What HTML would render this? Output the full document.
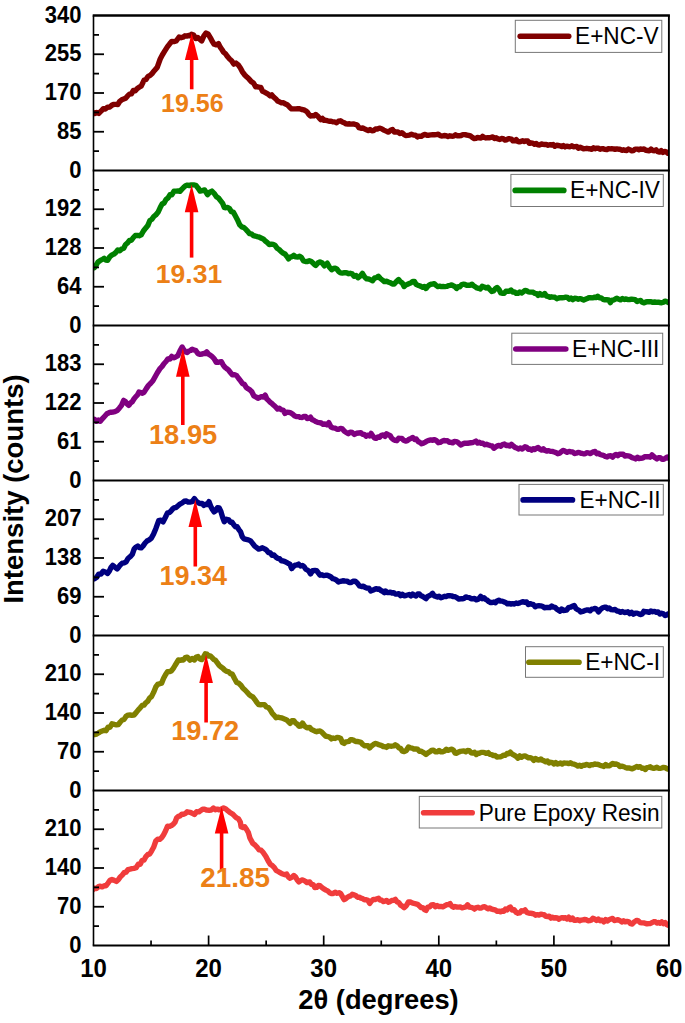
<!DOCTYPE html>
<html><head><meta charset="utf-8"><style>
html,body{margin:0;padding:0;background:#fff;}
body{width:685px;height:1023px;overflow:hidden;}
svg{display:block;}
text{font-family:"Liberation Sans",sans-serif;}
.yl{font-size:22px;font-weight:bold;text-anchor:end;fill:#000;}
.xl{font-size:24px;font-weight:bold;text-anchor:middle;fill:#000;}
.lg{font-size:22.6px;fill:#000;}
.pk{font-weight:bold;text-anchor:middle;fill:#EC8016;}
.xt{font-size:27.3px;font-weight:bold;text-anchor:middle;fill:#000;}
.yt{font-size:27.5px;font-weight:bold;text-anchor:middle;fill:#000;}
</style></head><body>
<svg width="685" height="1023" viewBox="0 0 685 1023">
<clipPath id="c0"><rect x="93.5" y="12.5" width="575.5" height="158.0"/></clipPath>
<path clip-path="url(#c0)" d="M90.5 112.9 L92.5 112.5 L94.5 113.6 L96.7 112.4 L98.8 113.4 L101.0 111.2 L103.2 108.7 L105.4 109.0 L107.6 107.2 L109.8 107.0 L112.0 105.1 L113.9 104.4 L115.9 104.4 L117.8 104.5 L119.8 101.3 L121.7 99.8 L123.7 99.0 L125.6 98.2 L127.6 95.9 L129.5 94.1 L131.4 93.9 L133.4 90.4 L135.3 90.8 L137.3 88.5 L139.2 87.2 L141.2 86.2 L144.1 80.1 L146.0 79.5 L148.0 76.4 L149.9 75.6 L152.1 73.5 L154.3 70.7 L157.2 67.4 L160.2 59.0 L162.3 55.0 L164.5 51.4 L167.5 46.6 L169.7 43.8 L171.8 41.4 L174.0 41.6 L176.2 41.0 L179.1 37.0 L181.1 37.7 L183.0 37.2 L185.0 35.8 L186.7 36.1 L188.4 35.5 L190.1 35.7 L191.5 34.3 L193.7 35.1 L195.8 38.5 L197.8 37.5 L199.7 39.2 L201.7 40.9 L203.9 35.9 L206.1 33.0 L208.2 34.2 L210.4 37.8 L212.2 41.3 L214.1 44.2 L216.3 44.8 L218.5 43.6 L220.2 47.1 L221.9 49.5 L223.6 52.2 L225.5 53.8 L227.5 56.6 L229.4 58.8 L231.6 60.7 L233.8 64.1 L236.0 63.1 L238.2 64.8 L240.4 68.0 L242.6 72.1 L244.8 75.0 L246.9 77.1 L249.1 79.1 L251.3 81.6 L253.5 83.0 L255.7 86.9 L257.4 86.8 L259.1 87.2 L260.8 87.5 L262.6 91.3 L264.5 92.1 L266.3 93.1 L268.1 94.1 L270.0 95.9 L271.8 94.9 L273.7 97.2 L275.7 98.8 L277.6 101.0 L279.5 101.9 L281.5 102.9 L283.4 102.6 L285.0 103.7 L287.2 104.7 L289.4 106.9 L291.6 108.9 L293.8 108.9 L295.7 108.9 L297.7 108.8 L299.6 108.7 L301.8 109.5 L304.0 109.9 L305.6 110.8 L307.2 111.9 L308.9 114.5 L310.5 116.0 L312.2 115.7 L314.0 115.8 L315.7 114.5 L317.4 115.8 L319.1 117.8 L320.8 119.6 L322.4 118.4 L324.1 120.4 L325.7 120.3 L327.3 120.7 L329.1 121.3 L331.0 121.1 L332.8 121.9 L334.6 121.9 L336.6 122.8 L338.5 121.2 L340.5 120.8 L342.3 122.0 L344.1 122.7 L346.0 123.8 L347.8 124.0 L349.6 123.8 L351.5 124.1 L353.3 123.9 L355.1 124.4 L357.0 124.8 L359.0 127.7 L360.9 128.3 L362.7 128.0 L364.5 128.9 L366.4 129.8 L368.2 130.6 L370.0 129.6 L371.9 130.8 L373.7 130.6 L375.5 129.0 L377.4 129.0 L379.4 128.1 L381.6 128.8 L383.8 130.1 L386.7 131.4 L388.6 132.1 L390.6 130.2 L392.5 129.4 L394.3 132.1 L396.1 132.0 L398.0 131.9 L399.8 133.5 L401.8 132.7 L403.7 134.2 L405.7 135.6 L407.6 135.4 L409.6 135.1 L411.5 134.3 L413.4 135.0 L415.4 135.1 L417.3 136.9 L419.3 136.1 L421.2 136.4 L423.2 135.1 L425.1 134.4 L427.1 135.3 L429.0 135.2 L430.8 134.9 L432.6 134.8 L434.5 134.8 L436.3 134.6 L438.3 134.2 L440.2 135.6 L442.2 136.0 L444.1 135.5 L446.1 135.7 L448.0 136.5 L449.9 135.8 L451.9 136.2 L453.8 136.1 L455.6 134.8 L457.5 135.8 L459.3 135.7 L461.1 135.5 L462.9 134.6 L464.8 134.6 L466.6 135.0 L468.4 135.3 L470.4 135.9 L472.3 137.4 L474.3 138.6 L475.9 138.4 L477.6 137.5 L479.2 137.8 L480.9 138.0 L482.6 136.3 L484.2 137.5 L485.9 138.0 L487.5 137.6 L489.2 137.8 L491.0 137.4 L492.8 136.9 L494.5 138.5 L496.2 137.7 L498.0 138.9 L499.8 139.5 L501.5 138.5 L503.2 138.7 L505.0 140.1 L506.6 139.8 L508.2 138.7 L509.8 138.8 L511.4 139.1 L513.0 140.9 L514.6 140.9 L516.2 139.6 L517.8 141.3 L519.4 141.8 L521.0 141.3 L522.6 140.8 L524.3 141.5 L526.0 140.9 L527.7 141.0 L529.4 143.4 L531.1 143.0 L532.8 143.1 L534.5 144.3 L536.2 143.5 L537.9 144.8 L539.6 145.0 L541.3 143.9 L543.0 144.4 L544.7 144.5 L546.4 144.5 L548.1 145.3 L549.8 144.7 L551.5 145.1 L553.2 144.5 L554.9 146.3 L556.6 145.2 L558.3 145.5 L560.0 145.8 L561.7 146.6 L563.4 145.6 L565.1 146.9 L566.7 146.2 L568.4 146.5 L570.1 146.7 L571.8 145.8 L573.4 146.9 L575.1 146.6 L576.8 146.4 L578.4 148.3 L580.1 147.2 L581.8 148.0 L583.5 148.8 L585.1 148.6 L586.8 148.3 L588.5 148.7 L590.1 148.8 L591.8 149.3 L593.5 147.8 L595.1 148.8 L596.8 148.1 L598.5 148.2 L600.1 149.3 L601.8 148.7 L603.4 148.8 L605.1 149.3 L606.8 149.6 L608.4 148.6 L610.1 148.9 L611.8 148.8 L613.4 148.9 L615.1 149.4 L616.8 148.9 L618.5 149.2 L620.1 149.2 L621.8 150.3 L623.5 149.8 L625.1 150.3 L626.8 150.5 L628.5 149.1 L630.2 149.9 L631.8 150.8 L633.5 150.6 L635.2 149.1 L637.0 149.1 L638.8 149.8 L640.5 149.0 L642.2 149.3 L644.0 149.0 L645.8 150.3 L647.5 150.5 L649.2 150.8 L651.0 149.1 L652.7 150.6 L654.4 150.7 L656.1 149.8 L657.8 151.7 L659.5 152.1 L661.2 150.7 L662.9 152.5 L664.6 151.5 L666.3 151.9 L668.0 153.3 L670.0 152.9 L672.0 152.2" fill="none" stroke="#800000" stroke-width="5.4" stroke-linejoin="round" stroke-linecap="round"/>
<clipPath id="c1"><rect x="93.5" y="167.5" width="575.5" height="158.0"/></clipPath>
<path clip-path="url(#c1)" d="M90.5 267.0 L92.5 267.5 L94.5 267.7 L96.3 264.8 L98.1 261.9 L100.3 260.4 L102.5 259.4 L104.2 258.3 L105.9 260.0 L107.6 260.3 L109.8 256.8 L112.0 254.9 L113.9 254.1 L115.9 252.4 L117.8 249.9 L119.8 250.8 L121.7 249.1 L123.7 248.3 L125.6 244.5 L127.6 242.9 L129.5 240.4 L131.4 240.3 L133.4 237.5 L135.3 235.5 L137.3 235.4 L139.2 235.7 L141.2 234.8 L143.4 231.0 L145.6 228.2 L147.8 225.6 L149.9 220.5 L151.9 219.3 L153.8 216.5 L155.8 214.9 L158.0 212.3 L160.2 207.6 L162.1 204.0 L164.1 203.0 L166.0 199.4 L167.9 198.1 L169.9 194.8 L171.8 194.8 L174.0 191.2 L176.2 191.1 L178.1 190.9 L179.9 191.4 L181.7 189.4 L183.5 187.6 L185.5 185.8 L187.4 185.1 L189.4 185.6 L191.5 184.9 L193.7 184.9 L195.8 185.3 L198.0 187.9 L200.2 191.1 L202.4 190.6 L204.6 189.9 L207.5 194.6 L209.7 192.1 L211.9 191.1 L214.1 193.3 L216.3 196.6 L218.5 198.0 L220.7 200.8 L222.5 203.1 L224.3 207.6 L226.0 207.7 L227.7 207.4 L229.4 208.5 L231.4 211.7 L233.3 212.1 L235.3 215.8 L237.4 219.7 L239.6 224.6 L241.6 226.8 L243.5 227.3 L245.5 229.0 L247.4 231.1 L249.4 233.5 L251.3 233.8 L253.3 235.6 L255.2 236.0 L257.2 236.6 L259.4 237.2 L261.5 238.2 L263.5 239.2 L265.4 241.1 L267.4 242.7 L269.3 244.6 L271.3 244.1 L273.2 244.4 L275.2 245.4 L277.1 248.3 L279.1 249.5 L281.2 251.6 L283.4 253.3 L285.0 254.0 L286.8 256.3 L288.6 258.9 L290.3 257.2 L292.1 256.7 L293.8 255.3 L295.7 256.9 L297.7 257.0 L299.6 256.2 L301.5 257.5 L303.5 261.0 L305.4 261.5 L307.4 261.6 L309.3 260.8 L311.3 261.6 L313.5 263.6 L315.7 265.5 L317.9 263.0 L320.0 261.9 L322.2 263.0 L324.4 265.8 L327.3 263.2 L329.5 267.2 L331.7 269.7 L333.5 268.5 L335.4 268.1 L337.1 269.3 L338.8 271.6 L340.5 272.9 L342.4 273.1 L344.4 272.7 L346.3 272.6 L348.3 273.7 L350.2 273.3 L352.2 273.9 L354.1 276.3 L356.1 275.5 L358.0 277.7 L360.2 276.1 L362.4 273.3 L364.6 276.9 L366.8 278.9 L368.7 279.0 L370.7 279.9 L372.6 280.8 L374.5 278.0 L376.5 277.6 L378.4 276.2 L380.4 278.5 L382.3 280.0 L384.3 281.6 L386.6 281.3 L388.8 282.3 L390.6 282.9 L392.4 284.0 L394.2 284.1 L396.4 281.5 L398.6 279.5 L400.4 281.8 L402.3 283.1 L404.1 286.5 L405.8 285.0 L407.6 284.3 L409.3 283.4 L411.1 282.7 L412.8 281.4 L414.4 281.4 L416.1 284.3 L417.8 285.2 L419.4 285.8 L421.0 286.4 L422.7 287.3 L424.4 286.5 L426.0 288.5 L427.6 286.4 L429.3 284.9 L431.0 284.2 L432.6 284.1 L434.3 283.6 L436.1 285.4 L437.8 286.6 L439.6 286.2 L441.3 286.6 L443.1 286.5 L444.8 286.6 L446.6 286.4 L448.3 285.7 L450.1 285.4 L451.7 284.9 L453.4 285.8 L455.0 286.7 L456.6 288.5 L458.2 286.8 L459.9 286.7 L461.6 284.8 L463.2 284.1 L465.0 284.5 L466.7 285.3 L468.5 285.3 L470.2 285.2 L472.0 284.2 L473.6 285.8 L475.2 286.8 L476.9 287.9 L478.5 288.3 L480.3 288.9 L482.2 286.2 L484.0 286.9 L485.9 288.0 L487.9 287.2 L489.8 289.5 L491.7 291.5 L493.5 290.9 L495.3 288.8 L497.1 287.5 L498.9 289.3 L500.8 292.9 L502.6 293.3 L504.2 293.2 L505.9 291.3 L507.6 291.2 L509.2 291.2 L511.0 290.0 L512.7 292.0 L514.5 291.9 L516.2 293.3 L518.0 293.4 L519.8 292.0 L521.5 293.1 L523.2 291.8 L525.0 290.4 L526.6 290.6 L528.3 291.9 L530.0 292.1 L531.6 292.1 L533.2 292.3 L534.9 293.3 L536.5 293.7 L538.1 295.4 L539.8 293.5 L541.4 295.1 L543.1 295.1 L544.7 293.5 L546.4 296.0 L548.0 296.3 L549.6 297.4 L551.3 296.8 L553.1 297.1 L554.9 297.3 L556.8 298.7 L558.6 298.0 L560.4 297.6 L562.2 297.8 L564.0 297.6 L565.7 297.2 L567.5 297.5 L569.2 299.2 L571.0 298.1 L572.8 299.7 L574.6 298.3 L576.5 298.5 L578.3 299.2 L580.1 298.7 L581.9 299.2 L583.7 300.0 L585.4 299.3 L587.2 298.6 L588.9 297.7 L590.7 297.8 L592.4 297.9 L594.2 297.2 L595.9 297.6 L597.7 296.2 L599.4 297.8 L601.2 297.9 L603.1 299.3 L604.9 299.8 L606.7 299.8 L608.6 300.0 L610.4 302.6 L612.0 300.1 L613.7 300.1 L615.4 299.0 L617.0 298.2 L618.8 299.3 L620.6 299.9 L622.5 298.5 L624.3 299.5 L626.1 298.9 L627.9 299.6 L629.7 299.5 L631.6 299.2 L633.4 299.4 L635.2 299.7 L637.1 301.5 L638.9 300.8 L640.6 300.5 L642.4 302.3 L644.1 302.9 L645.9 302.0 L647.6 301.6 L649.4 301.8 L651.1 301.7 L652.9 302.4 L654.6 302.0 L656.4 302.4 L658.1 302.1 L659.9 302.5 L661.6 302.8 L663.4 302.2 L665.1 301.1 L666.8 301.7 L668.4 302.5 L670.2 302.1 L672.0 302.4" fill="none" stroke="#008000" stroke-width="5.4" stroke-linejoin="round" stroke-linecap="round"/>
<clipPath id="c2"><rect x="93.5" y="322.5" width="575.5" height="158.0"/></clipPath>
<path clip-path="url(#c2)" d="M90.5 419.4 L92.5 418.8 L94.5 419.3 L96.4 421.3 L98.4 419.9 L100.3 421.2 L102.5 418.6 L104.7 416.2 L106.9 413.7 L109.1 412.7 L111.0 412.2 L113.0 412.0 L114.9 411.7 L117.1 410.6 L119.3 408.2 L121.5 405.3 L123.7 400.4 L125.4 401.5 L127.1 404.0 L128.8 405.4 L130.5 403.0 L132.2 401.8 L133.9 399.0 L135.6 396.9 L137.3 395.2 L139.0 392.0 L140.7 392.6 L142.4 393.3 L144.1 392.2 L146.3 388.6 L148.5 385.4 L150.7 383.3 L152.9 380.8 L155.8 375.5 L158.0 371.7 L160.2 368.3 L162.1 366.4 L164.1 363.5 L166.0 361.5 L167.9 358.9 L169.9 359.1 L171.8 356.4 L173.8 357.7 L175.7 356.9 L177.7 355.9 L179.9 351.1 L182.1 347.0 L183.8 349.8 L185.5 351.9 L187.2 352.5 L188.9 351.0 L190.5 350.5 L192.2 349.2 L194.0 349.9 L195.8 350.6 L198.0 353.6 L200.2 354.4 L201.8 354.1 L203.5 353.5 L205.2 353.6 L206.8 351.9 L208.5 354.2 L210.2 355.1 L211.9 356.4 L214.1 358.6 L216.3 362.4 L218.0 362.3 L219.7 361.9 L221.4 361.7 L223.1 364.8 L224.8 367.1 L226.5 368.5 L228.4 369.9 L230.4 372.5 L232.3 374.7 L234.5 374.6 L236.7 375.7 L238.7 378.5 L240.6 380.9 L242.6 383.7 L244.4 384.3 L246.2 387.3 L248.1 388.8 L249.9 389.9 L251.8 391.7 L253.8 395.8 L255.7 396.8 L257.9 398.3 L260.1 397.3 L261.8 396.6 L263.5 397.0 L265.2 395.2 L266.9 399.1 L268.6 400.6 L270.3 402.3 L272.1 403.7 L274.0 405.4 L275.8 407.2 L277.6 409.1 L279.5 408.3 L281.5 409.8 L283.4 410.4 L285.0 413.4 L286.9 412.1 L288.9 412.4 L290.8 412.9 L292.8 414.3 L294.7 416.0 L296.7 416.6 L298.5 416.6 L300.4 417.4 L302.2 417.5 L304.0 416.4 L305.6 416.5 L307.2 418.5 L308.9 418.4 L310.5 417.2 L312.2 419.8 L314.0 420.4 L315.7 421.6 L317.5 422.3 L319.4 422.6 L321.2 423.0 L323.0 424.3 L324.9 424.0 L326.9 424.9 L328.8 422.6 L331.0 427.0 L333.2 427.9 L335.0 428.2 L336.9 429.2 L338.7 429.2 L340.5 428.4 L342.4 428.9 L344.4 431.3 L346.3 432.5 L348.3 433.7 L350.2 432.1 L352.2 432.5 L354.4 434.4 L356.5 433.3 L358.7 433.0 L360.9 432.8 L362.6 434.4 L364.3 434.5 L366.0 436.2 L367.7 435.1 L369.4 435.9 L371.1 433.4 L372.8 436.0 L374.5 438.0 L376.2 438.3 L377.9 437.0 L379.7 437.2 L381.4 435.3 L383.2 434.9 L385.0 436.3 L386.6 433.8 L388.3 434.9 L390.1 435.5 L391.8 438.3 L393.6 439.8 L395.3 440.4 L396.9 440.7 L398.6 438.3 L400.2 438.4 L401.9 438.5 L403.7 440.3 L405.6 441.1 L407.4 440.6 L409.2 439.2 L411.0 438.4 L412.8 437.5 L414.6 439.5 L416.3 439.0 L418.1 441.5 L419.8 442.4 L421.6 443.7 L423.4 443.1 L425.3 442.1 L427.1 441.0 L428.9 440.4 L430.8 439.9 L432.6 440.3 L434.5 439.6 L436.4 440.7 L438.3 442.7 L440.2 442.4 L442.0 441.3 L443.9 440.5 L445.7 440.9 L447.4 440.6 L449.2 442.3 L450.9 442.3 L452.7 442.8 L454.4 441.4 L456.0 441.6 L457.7 442.3 L459.4 443.8 L461.0 445.0 L462.6 444.0 L464.3 443.2 L465.9 443.2 L467.6 443.3 L469.2 443.0 L470.9 442.8 L472.6 442.6 L474.2 441.9 L475.9 441.1 L477.7 443.1 L479.4 442.3 L481.2 443.3 L482.9 443.3 L484.7 444.8 L486.6 444.2 L488.4 444.9 L490.2 445.6 L492.1 446.0 L493.9 448.2 L495.6 447.0 L497.4 445.9 L499.1 445.4 L500.9 446.2 L502.6 444.5 L504.4 444.0 L506.1 445.5 L507.9 445.3 L509.6 446.1 L511.4 444.3 L513.2 445.9 L515.0 447.4 L516.8 448.1 L518.7 449.0 L520.5 447.9 L522.3 449.1 L525.0 446.7 L526.6 447.3 L528.3 449.4 L530.0 449.0 L531.6 450.2 L533.2 448.7 L534.9 449.5 L536.5 448.2 L538.1 447.5 L539.9 449.2 L541.6 450.1 L543.4 448.8 L545.1 450.5 L546.9 451.1 L548.7 450.6 L550.5 451.4 L552.3 451.4 L554.2 452.0 L556.0 452.6 L557.8 453.8 L559.6 453.2 L561.5 451.5 L563.3 450.4 L565.2 451.3 L567.1 452.3 L569.1 451.4 L571.0 451.9 L572.7 451.9 L574.5 453.5 L576.2 453.2 L578.0 452.4 L579.7 452.7 L581.5 453.4 L583.2 453.7 L585.0 453.9 L586.7 452.7 L588.5 452.9 L590.1 453.6 L591.8 452.6 L593.5 451.8 L595.1 451.5 L596.7 453.7 L598.4 453.1 L600.0 454.5 L601.6 454.9 L603.4 455.3 L605.3 456.5 L607.1 457.0 L608.9 455.9 L610.8 455.8 L612.6 457.2 L614.3 455.4 L616.1 454.4 L617.8 455.7 L619.6 454.1 L621.3 454.3 L623.1 454.2 L624.8 456.0 L626.6 455.8 L628.3 455.9 L630.1 456.3 L631.9 457.7 L633.7 458.1 L635.5 458.9 L637.4 457.2 L639.2 458.6 L641.0 458.2 L642.8 458.1 L644.7 456.8 L646.5 456.7 L648.3 456.7 L650.2 457.2 L652.0 454.9 L653.6 456.5 L655.3 457.8 L657.0 458.9 L658.6 457.8 L660.3 457.6 L662.1 459.3 L663.8 459.2 L665.6 458.1 L667.3 457.0 L669.6 458.9 L672.0 458.0" fill="none" stroke="#800080" stroke-width="5.4" stroke-linejoin="round" stroke-linecap="round"/>
<clipPath id="c3"><rect x="93.5" y="477.5" width="575.5" height="158.0"/></clipPath>
<path clip-path="url(#c3)" d="M90.5 578.2 L92.5 579.3 L94.5 578.7 L96.7 577.3 L98.8 574.1 L101.0 574.0 L103.2 571.3 L105.4 572.0 L107.6 573.4 L109.3 571.1 L111.0 567.5 L112.7 565.4 L114.9 567.2 L117.1 568.9 L118.8 566.9 L120.5 564.7 L122.2 563.2 L124.1 562.9 L126.1 561.8 L128.0 558.5 L130.2 556.7 L132.4 554.2 L134.2 548.9 L136.1 547.0 L137.8 546.0 L139.5 547.5 L141.2 547.9 L143.1 545.9 L145.1 543.0 L147.0 541.0 L149.2 539.9 L151.4 538.1 L153.6 533.9 L155.8 528.7 L158.7 520.7 L160.9 520.1 L163.1 521.8 L165.3 517.5 L167.5 512.9 L169.2 512.6 L170.9 511.2 L172.6 509.0 L174.3 507.7 L176.0 507.6 L177.7 506.0 L179.9 504.2 L182.1 503.0 L184.2 501.3 L186.4 501.0 L188.2 502.1 L190.1 502.0 L192.2 501.6 L194.4 498.7 L196.6 501.6 L198.8 503.1 L200.5 503.5 L202.2 503.5 L203.9 505.4 L205.6 504.2 L207.3 504.5 L209.0 501.7 L210.7 506.2 L212.4 509.5 L214.1 511.8 L215.8 510.5 L217.5 507.7 L219.2 508.0 L220.9 511.5 L222.6 517.2 L224.3 521.7 L226.5 519.3 L228.7 519.9 L230.4 522.2 L232.1 522.2 L233.8 524.8 L235.5 526.9 L237.2 526.8 L238.9 529.7 L240.6 531.9 L242.3 536.8 L244.0 538.9 L246.2 539.4 L248.4 539.9 L250.6 540.9 L252.8 543.6 L254.7 546.1 L256.7 547.6 L258.6 549.0 L260.6 548.6 L262.5 547.8 L264.5 548.8 L266.4 550.1 L268.4 552.5 L270.3 552.9 L272.1 555.3 L274.0 555.0 L275.8 557.0 L277.6 558.3 L279.5 558.7 L281.5 560.8 L283.4 561.0 L285.0 561.6 L287.9 563.2 L289.8 564.1 L291.6 568.6 L293.3 566.7 L295.0 565.1 L296.7 565.0 L298.6 564.1 L300.6 566.0 L302.5 565.5 L304.1 566.6 L305.7 569.1 L307.3 570.0 L308.9 571.1 L310.5 573.9 L312.7 570.6 L314.9 570.4 L316.6 570.6 L318.3 572.9 L320.0 575.2 L321.8 574.8 L323.6 575.6 L325.5 575.3 L327.3 575.2 L329.1 576.0 L331.0 577.0 L332.8 578.7 L334.6 579.1 L336.6 580.2 L338.5 582.0 L340.5 581.3 L342.7 580.8 L344.9 581.0 L347.0 581.1 L349.2 582.5 L351.2 582.5 L353.1 581.3 L355.1 581.1 L357.3 583.0 L359.5 586.0 L361.4 586.5 L363.4 586.1 L365.3 587.5 L367.1 588.1 L369.0 588.2 L370.8 590.9 L372.6 590.3 L374.2 589.5 L375.9 588.7 L377.6 589.2 L379.2 589.0 L380.9 590.5 L382.6 591.3 L384.3 592.6 L385.5 591.0 L387.1 592.6 L388.8 592.5 L390.4 592.2 L392.0 593.0 L393.7 592.7 L395.3 594.0 L397.1 594.1 L398.8 593.6 L400.6 595.6 L402.3 594.2 L404.1 595.9 L405.8 595.5 L407.5 595.0 L409.2 594.5 L410.9 595.9 L412.6 594.1 L414.3 595.2 L416.0 595.9 L417.7 594.0 L419.4 594.0 L421.0 595.8 L422.7 596.4 L424.4 597.5 L426.0 598.7 L427.6 596.4 L429.3 595.7 L431.0 594.8 L432.6 593.3 L434.2 595.9 L435.9 596.4 L437.5 597.0 L439.1 596.2 L440.9 597.8 L442.6 597.2 L444.4 596.3 L446.1 596.6 L447.9 595.7 L449.7 595.7 L451.5 595.9 L453.4 596.6 L455.2 596.7 L457.0 597.8 L458.8 599.1 L460.6 598.8 L462.3 598.8 L464.1 598.3 L465.8 597.0 L467.6 597.4 L469.3 597.6 L471.1 598.8 L472.8 598.7 L474.6 598.5 L476.3 599.8 L478.5 599.2 L480.7 596.3 L482.4 598.7 L484.0 597.8 L485.6 599.3 L487.3 600.2 L488.9 601.7 L490.6 602.6 L492.2 602.5 L493.9 602.0 L495.5 602.7 L497.1 600.9 L498.8 600.2 L500.4 601.1 L502.2 601.1 L503.9 601.9 L505.7 602.5 L507.4 603.9 L509.2 603.4 L510.9 604.1 L512.7 603.7 L514.4 604.0 L516.2 603.0 L517.9 603.5 L519.7 602.9 L521.5 602.1 L523.2 601.7 L525.0 602.4 L526.6 601.9 L528.3 604.5 L530.0 603.6 L531.6 604.1 L533.4 604.6 L535.2 606.8 L537.0 605.9 L538.9 605.8 L540.7 605.9 L542.5 606.3 L544.3 607.7 L546.2 607.5 L548.0 607.5 L549.8 607.6 L551.7 606.0 L553.5 607.1 L555.1 607.4 L556.8 609.2 L558.4 610.1 L560.0 611.1 L561.6 609.0 L563.3 610.5 L565.0 610.3 L566.6 610.1 L568.5 607.6 L570.5 607.2 L572.4 606.3 L574.3 605.5 L575.9 608.5 L577.5 609.6 L579.2 610.4 L580.8 612.0 L582.7 611.5 L584.6 610.6 L586.6 610.0 L588.5 609.9 L590.1 610.8 L591.8 609.1 L593.5 608.8 L595.1 608.4 L596.8 609.4 L598.4 611.9 L600.5 609.4 L602.7 607.8 L604.4 607.2 L606.0 607.3 L607.6 608.8 L609.3 608.0 L611.2 609.6 L613.1 609.9 L615.1 609.4 L617.0 611.1 L618.8 611.3 L620.6 612.3 L622.5 611.5 L624.3 612.5 L626.1 612.3 L627.9 611.8 L629.7 613.6 L631.6 612.2 L633.4 614.2 L635.2 613.1 L637.1 613.1 L638.9 613.9 L640.5 614.5 L642.1 614.2 L643.8 611.3 L645.4 611.7 L647.2 611.7 L649.1 612.4 L650.9 611.0 L652.7 611.7 L654.6 611.4 L656.4 612.4 L658.1 611.9 L659.9 614.1 L661.6 613.3 L663.4 613.9 L665.1 615.6 L666.8 614.9 L668.4 613.7 L670.2 614.9 L672.0 614.6" fill="none" stroke="#000080" stroke-width="5.4" stroke-linejoin="round" stroke-linecap="round"/>
<clipPath id="c4"><rect x="93.5" y="632.5" width="575.5" height="158.0"/></clipPath>
<path clip-path="url(#c4)" d="M90.5 733.3 L92.5 734.8 L94.5 734.6 L96.4 734.1 L98.4 733.0 L100.3 731.7 L102.2 731.0 L104.2 730.3 L106.1 730.7 L108.1 727.2 L110.0 727.3 L112.0 723.7 L114.2 724.4 L116.4 724.9 L118.3 724.6 L120.3 722.0 L122.2 720.0 L124.1 719.4 L126.1 716.3 L128.0 715.1 L130.0 715.0 L131.9 715.3 L133.9 715.1 L136.1 712.6 L138.3 709.8 L140.2 707.8 L142.2 705.4 L144.1 705.0 L145.9 702.7 L147.8 701.1 L149.6 698.0 L151.4 696.8 L153.6 692.4 L155.8 686.9 L157.7 684.4 L159.7 683.7 L161.6 683.1 L163.6 678.3 L165.5 674.8 L167.5 671.7 L169.4 671.6 L171.4 670.9 L173.3 668.4 L175.0 665.5 L176.7 662.8 L178.4 660.0 L180.1 660.4 L181.8 659.7 L183.5 660.0 L185.3 657.6 L187.2 657.1 L190.0 660.2 L192.2 658.5 L194.4 660.0 L196.2 657.0 L198.0 656.5 L199.8 659.0 L201.7 659.6 L203.5 657.0 L205.3 653.8 L207.0 654.2 L208.7 656.1 L210.4 655.9 L212.1 657.6 L213.8 659.5 L215.5 660.2 L217.2 662.7 L219.0 665.2 L220.7 666.7 L222.6 668.0 L224.6 670.0 L226.5 671.3 L228.4 671.6 L230.4 673.6 L232.3 674.1 L234.5 678.5 L236.7 682.5 L238.9 683.3 L241.1 685.5 L243.0 688.3 L245.0 690.0 L246.9 692.0 L248.9 694.3 L250.8 695.8 L252.8 696.8 L254.7 699.3 L256.7 702.3 L258.6 704.6 L260.6 704.8 L262.5 704.6 L264.5 704.6 L266.4 707.0 L268.4 707.5 L270.3 709.9 L272.2 713.2 L274.2 715.4 L276.1 717.7 L278.1 717.1 L280.0 717.7 L282.0 718.0 L285.0 719.2 L286.7 719.9 L288.4 721.7 L290.1 723.4 L292.0 720.7 L293.8 720.6 L295.5 722.9 L297.2 724.0 L298.9 726.2 L300.7 726.1 L302.5 723.0 L304.7 726.3 L306.9 727.7 L309.8 727.5 L311.5 729.6 L313.2 730.3 L314.9 731.1 L316.6 731.7 L318.3 731.1 L320.0 731.0 L322.0 732.3 L323.9 734.3 L325.9 736.4 L327.7 736.5 L329.5 737.0 L331.4 738.9 L333.2 738.0 L335.1 738.5 L337.1 737.4 L339.0 737.7 L340.7 738.5 L342.4 742.6 L344.1 743.4 L345.7 742.0 L347.3 741.7 L349.0 741.3 L350.6 739.7 L352.2 739.8 L353.9 740.4 L355.7 741.6 L357.4 741.5 L359.2 741.9 L360.9 742.4 L362.7 744.4 L364.4 745.7 L366.2 745.6 L367.9 745.8 L369.7 748.0 L371.5 746.0 L373.4 744.6 L375.2 743.4 L377.0 743.8 L378.6 744.7 L380.2 745.1 L381.8 745.6 L383.4 746.6 L385.0 746.7 L386.6 747.4 L388.3 745.8 L390.1 746.1 L391.8 746.2 L393.6 745.9 L395.3 744.8 L397.1 745.8 L398.8 747.8 L400.6 748.3 L402.3 751.2 L404.1 751.6 L406.3 750.5 L408.5 747.0 L410.3 747.8 L412.1 748.1 L413.9 749.0 L415.8 749.0 L417.6 749.2 L419.4 751.3 L421.0 751.2 L422.7 752.1 L424.4 753.1 L426.0 754.5 L427.8 752.9 L429.7 751.9 L431.5 750.5 L433.4 750.1 L435.3 751.7 L437.2 751.9 L439.1 750.5 L440.9 751.9 L442.8 751.7 L444.6 751.0 L446.4 749.2 L448.3 750.4 L450.1 749.6 L451.7 749.2 L453.4 750.1 L455.0 753.1 L456.6 753.3 L458.4 752.1 L460.3 751.4 L462.1 751.1 L463.9 750.9 L465.8 751.8 L467.6 750.5 L469.3 750.6 L471.1 752.8 L472.8 753.1 L474.6 752.3 L476.3 754.5 L477.9 753.3 L479.6 753.2 L481.2 752.4 L482.9 752.4 L484.7 752.7 L486.4 753.4 L488.2 752.6 L489.9 754.3 L491.7 754.6 L493.4 755.6 L495.2 755.5 L496.9 757.1 L498.7 756.9 L500.4 756.9 L502.0 756.1 L503.7 755.1 L505.4 755.2 L507.0 753.5 L508.6 753.7 L510.3 752.2 L512.2 754.1 L514.1 755.2 L516.1 756.4 L518.0 758.2 L519.8 755.9 L521.5 757.3 L523.2 756.1 L525.0 755.9 L526.8 756.9 L528.5 757.9 L530.3 757.6 L532.0 758.4 L533.8 760.3 L535.5 758.5 L537.3 759.9 L539.0 760.1 L540.8 758.9 L542.5 760.3 L544.1 760.9 L545.8 761.9 L547.5 761.0 L549.1 762.9 L550.8 762.3 L552.4 762.7 L554.1 764.0 L555.7 762.6 L557.3 764.0 L559.0 763.7 L560.6 763.0 L562.2 764.1 L563.9 762.9 L565.5 763.1 L567.2 763.1 L568.8 763.6 L570.6 762.8 L572.4 763.8 L574.2 764.2 L576.1 765.0 L577.9 766.1 L579.7 765.3 L581.4 766.3 L583.0 765.2 L584.6 765.2 L586.3 764.4 L588.0 764.8 L589.6 765.6 L591.2 764.7 L592.9 764.7 L594.7 764.0 L596.5 764.3 L598.3 764.5 L600.2 765.4 L602.0 765.8 L603.8 766.4 L605.6 764.5 L607.3 765.8 L609.1 765.9 L610.8 764.9 L612.6 763.5 L614.4 764.4 L616.2 764.0 L618.0 764.7 L619.9 766.6 L621.7 766.2 L623.5 766.6 L625.3 767.4 L627.0 768.1 L628.8 767.9 L630.5 768.3 L632.3 768.8 L634.5 767.8 L636.7 766.5 L638.4 767.2 L640.2 766.7 L641.9 768.2 L643.7 768.3 L645.4 769.5 L647.0 767.6 L648.7 767.4 L650.4 766.8 L652.0 768.0 L653.6 768.4 L655.3 767.9 L656.9 767.3 L658.5 768.4 L660.2 768.4 L661.8 768.0 L663.5 767.4 L665.1 767.6 L666.8 768.6 L668.4 769.2 L670.2 769.4 L672.0 769.6" fill="none" stroke="#808000" stroke-width="5.4" stroke-linejoin="round" stroke-linecap="round"/>
<clipPath id="c5"><rect x="93.5" y="787.5" width="575.5" height="158.0"/></clipPath>
<path clip-path="url(#c5)" d="M90.5 889.5 L92.5 890.2 L94.5 888.2 L96.4 888.6 L98.4 886.7 L100.3 886.2 L102.2 886.9 L104.2 885.7 L106.1 885.7 L108.1 883.0 L110.0 880.3 L112.0 879.5 L114.2 880.3 L116.4 881.4 L118.3 879.8 L120.3 876.9 L122.2 875.1 L124.1 872.7 L126.1 872.2 L128.0 869.6 L130.0 869.2 L131.9 868.7 L133.9 868.4 L136.1 867.7 L138.3 864.3 L140.2 864.2 L142.2 860.3 L144.1 860.0 L145.9 856.6 L147.8 854.5 L149.6 854.2 L151.4 851.3 L153.6 847.3 L155.8 841.0 L157.7 839.2 L159.7 839.4 L161.6 837.8 L163.6 834.7 L165.5 831.0 L167.5 826.2 L169.4 826.4 L171.4 825.6 L173.3 824.1 L175.0 822.2 L176.7 817.8 L178.4 816.4 L180.1 815.9 L181.8 814.3 L183.5 814.3 L185.3 813.6 L187.2 811.8 L190.0 812.3 L192.2 813.2 L194.4 814.5 L196.6 811.8 L198.8 811.9 L200.7 810.6 L202.7 809.1 L204.6 809.3 L206.8 810.1 L209.0 810.2 L211.2 810.0 L213.4 808.1 L215.3 809.8 L217.3 809.1 L219.2 809.9 L221.4 809.1 L223.6 807.9 L225.8 808.9 L228.0 810.9 L230.2 812.7 L232.3 813.8 L234.5 815.9 L236.7 817.9 L238.6 818.9 L240.4 822.3 L241.1 826.8 L242.9 827.5 L244.7 826.7 L246.6 829.5 L248.4 832.6 L249.9 838.0 L252.8 843.4 L255.0 845.0 L257.2 847.4 L259.1 849.9 L261.1 850.2 L263.0 852.3 L265.9 856.5 L268.1 860.8 L270.3 864.3 L272.2 865.6 L274.2 867.4 L276.1 870.4 L278.1 871.5 L280.0 872.6 L282.0 873.8 L285.0 874.8 L286.7 874.1 L288.4 877.0 L290.1 878.2 L292.0 877.2 L293.8 875.5 L295.5 876.8 L297.2 880.0 L298.9 881.9 L300.7 880.5 L302.5 879.9 L304.7 880.9 L306.9 882.5 L309.8 882.0 L311.5 884.3 L313.2 884.6 L314.9 887.6 L316.6 887.4 L318.3 885.4 L320.0 885.7 L322.0 887.6 L323.9 888.9 L325.9 890.1 L327.7 890.9 L329.5 892.7 L331.4 893.5 L333.2 893.5 L335.1 892.2 L337.1 893.3 L339.0 892.7 L340.7 893.7 L342.4 896.7 L344.1 899.6 L345.7 898.8 L347.3 897.3 L349.0 896.4 L350.6 895.9 L352.2 894.3 L353.9 894.9 L355.7 895.5 L357.4 897.2 L359.2 897.1 L360.9 898.1 L362.7 898.6 L364.4 899.8 L366.2 899.8 L367.9 900.4 L369.7 903.4 L371.5 901.0 L373.4 899.4 L375.2 899.5 L377.0 898.8 L378.6 898.3 L380.2 900.1 L381.8 900.3 L383.4 901.5 L385.0 901.2 L386.6 900.4 L388.3 902.2 L390.1 901.6 L391.8 900.5 L393.6 900.3 L395.3 899.4 L397.1 901.9 L398.8 902.5 L400.6 905.1 L402.3 906.1 L404.1 907.6 L406.3 905.7 L408.5 902.0 L410.3 902.0 L412.1 902.9 L413.9 903.4 L415.8 903.8 L417.6 904.3 L419.4 905.9 L421.0 907.5 L422.7 907.6 L424.4 909.6 L426.0 910.4 L427.8 907.1 L429.7 906.8 L431.5 904.9 L433.4 904.6 L435.3 906.8 L437.2 905.6 L439.1 906.6 L440.9 906.4 L442.8 906.8 L444.6 905.8 L446.4 904.8 L448.3 904.6 L450.1 903.6 L451.7 906.2 L453.4 907.2 L455.0 906.5 L456.6 907.0 L458.4 907.1 L460.3 906.9 L462.1 907.8 L463.9 907.4 L465.8 906.9 L467.6 904.8 L469.3 907.0 L471.1 907.4 L472.8 907.8 L474.6 909.1 L476.3 907.6 L477.9 907.3 L479.6 908.1 L481.2 908.0 L482.9 906.9 L484.7 906.7 L486.4 907.9 L488.2 908.9 L489.9 908.0 L491.7 909.1 L493.4 909.5 L495.2 909.8 L496.9 911.2 L498.7 911.1 L500.4 911.8 L502.0 910.9 L503.7 911.3 L505.4 909.1 L507.0 909.9 L508.6 908.1 L510.3 907.0 L512.2 910.0 L514.1 909.6 L516.1 912.3 L518.0 913.2 L519.8 912.9 L521.5 910.8 L523.2 911.1 L525.0 909.9 L526.8 912.4 L528.5 913.0 L530.3 913.2 L532.0 913.5 L533.8 913.9 L535.5 915.2 L537.3 914.6 L539.0 915.1 L540.8 914.2 L542.5 914.5 L544.1 914.6 L545.8 916.4 L547.5 916.5 L549.1 916.1 L550.8 918.1 L552.4 917.2 L554.1 918.0 L555.7 917.8 L557.3 918.0 L559.0 919.2 L560.6 918.0 L562.2 917.6 L563.9 918.2 L565.5 917.7 L567.2 919.0 L568.8 917.2 L570.6 919.5 L572.4 918.0 L574.2 920.3 L576.1 920.2 L577.9 919.7 L579.7 920.8 L581.4 920.1 L583.0 919.8 L584.6 919.5 L586.3 919.7 L588.0 920.8 L589.6 920.6 L591.2 920.2 L592.9 918.2 L594.7 918.9 L596.5 920.5 L598.3 919.0 L600.2 920.7 L602.0 920.1 L603.8 921.9 L605.6 919.5 L607.3 921.0 L609.1 919.7 L610.8 919.0 L612.6 918.4 L614.4 920.5 L616.2 920.2 L618.0 919.7 L619.9 920.6 L621.7 921.9 L623.5 920.7 L625.3 921.9 L627.0 921.4 L628.8 921.9 L630.5 923.7 L632.3 924.0 L634.5 921.7 L636.7 920.4 L638.4 920.9 L640.2 922.6 L641.9 922.9 L643.7 922.9 L645.4 923.3 L647.0 923.8 L648.7 923.6 L650.4 923.5 L652.0 922.6 L653.6 921.8 L655.3 921.6 L656.9 923.1 L658.5 922.5 L660.2 923.3 L661.8 921.9 L663.5 923.6 L665.1 922.6 L666.8 924.6 L668.4 925.4 L670.2 924.6 L672.0 924.6" fill="none" stroke="#F03C3C" stroke-width="5.4" stroke-linejoin="round" stroke-linecap="round"/>
<line x1="92.7" y1="15.50" x2="669.9" y2="15.50" stroke="#000" stroke-width="2.3"/>
<line x1="93.5" y1="151.12" x2="99.0" y2="151.12" stroke="#000" stroke-width="1.8"/>
<line x1="93.5" y1="131.75" x2="104.0" y2="131.75" stroke="#000" stroke-width="1.8"/>
<line x1="93.5" y1="112.38" x2="99.0" y2="112.38" stroke="#000" stroke-width="1.8"/>
<line x1="93.5" y1="93.00" x2="104.0" y2="93.00" stroke="#000" stroke-width="1.8"/>
<line x1="93.5" y1="73.62" x2="99.0" y2="73.62" stroke="#000" stroke-width="1.8"/>
<line x1="93.5" y1="54.25" x2="104.0" y2="54.25" stroke="#000" stroke-width="1.8"/>
<line x1="93.5" y1="34.88" x2="99.0" y2="34.88" stroke="#000" stroke-width="1.8"/>
<text transform="translate(81.5,22.50) scale(1,1.07)" class="yl">340</text>
<text transform="translate(81.5,61.25) scale(1,1.07)" class="yl">255</text>
<text transform="translate(81.5,100.00) scale(1,1.07)" class="yl">170</text>
<text transform="translate(81.5,138.75) scale(1,1.07)" class="yl">85</text>
<text transform="translate(81.5,177.50) scale(1,1.07)" class="yl">0</text>
<line x1="92.7" y1="170.50" x2="669.9" y2="170.50" stroke="#000" stroke-width="1.8"/>
<line x1="93.5" y1="306.12" x2="99.0" y2="306.12" stroke="#000" stroke-width="1.8"/>
<line x1="93.5" y1="286.75" x2="104.0" y2="286.75" stroke="#000" stroke-width="1.8"/>
<line x1="93.5" y1="267.38" x2="99.0" y2="267.38" stroke="#000" stroke-width="1.8"/>
<line x1="93.5" y1="248.00" x2="104.0" y2="248.00" stroke="#000" stroke-width="1.8"/>
<line x1="93.5" y1="228.62" x2="99.0" y2="228.62" stroke="#000" stroke-width="1.8"/>
<line x1="93.5" y1="209.25" x2="104.0" y2="209.25" stroke="#000" stroke-width="1.8"/>
<line x1="93.5" y1="189.88" x2="99.0" y2="189.88" stroke="#000" stroke-width="1.8"/>
<text transform="translate(81.5,216.25) scale(1,1.07)" class="yl">192</text>
<text transform="translate(81.5,255.00) scale(1,1.07)" class="yl">128</text>
<text transform="translate(81.5,293.75) scale(1,1.07)" class="yl">64</text>
<text transform="translate(81.5,332.50) scale(1,1.07)" class="yl">0</text>
<line x1="92.7" y1="325.50" x2="669.9" y2="325.50" stroke="#000" stroke-width="1.8"/>
<line x1="93.5" y1="461.12" x2="99.0" y2="461.12" stroke="#000" stroke-width="1.8"/>
<line x1="93.5" y1="441.75" x2="104.0" y2="441.75" stroke="#000" stroke-width="1.8"/>
<line x1="93.5" y1="422.38" x2="99.0" y2="422.38" stroke="#000" stroke-width="1.8"/>
<line x1="93.5" y1="403.00" x2="104.0" y2="403.00" stroke="#000" stroke-width="1.8"/>
<line x1="93.5" y1="383.62" x2="99.0" y2="383.62" stroke="#000" stroke-width="1.8"/>
<line x1="93.5" y1="364.25" x2="104.0" y2="364.25" stroke="#000" stroke-width="1.8"/>
<line x1="93.5" y1="344.88" x2="99.0" y2="344.88" stroke="#000" stroke-width="1.8"/>
<text transform="translate(81.5,371.25) scale(1,1.07)" class="yl">183</text>
<text transform="translate(81.5,410.00) scale(1,1.07)" class="yl">122</text>
<text transform="translate(81.5,448.75) scale(1,1.07)" class="yl">61</text>
<text transform="translate(81.5,487.50) scale(1,1.07)" class="yl">0</text>
<line x1="92.7" y1="480.50" x2="669.9" y2="480.50" stroke="#000" stroke-width="1.8"/>
<line x1="93.5" y1="616.12" x2="99.0" y2="616.12" stroke="#000" stroke-width="1.8"/>
<line x1="93.5" y1="596.75" x2="104.0" y2="596.75" stroke="#000" stroke-width="1.8"/>
<line x1="93.5" y1="577.38" x2="99.0" y2="577.38" stroke="#000" stroke-width="1.8"/>
<line x1="93.5" y1="558.00" x2="104.0" y2="558.00" stroke="#000" stroke-width="1.8"/>
<line x1="93.5" y1="538.62" x2="99.0" y2="538.62" stroke="#000" stroke-width="1.8"/>
<line x1="93.5" y1="519.25" x2="104.0" y2="519.25" stroke="#000" stroke-width="1.8"/>
<line x1="93.5" y1="499.88" x2="99.0" y2="499.88" stroke="#000" stroke-width="1.8"/>
<text transform="translate(81.5,526.25) scale(1,1.07)" class="yl">207</text>
<text transform="translate(81.5,565.00) scale(1,1.07)" class="yl">138</text>
<text transform="translate(81.5,603.75) scale(1,1.07)" class="yl">69</text>
<text transform="translate(81.5,642.50) scale(1,1.07)" class="yl">0</text>
<line x1="92.7" y1="635.50" x2="669.9" y2="635.50" stroke="#000" stroke-width="1.8"/>
<line x1="93.5" y1="771.12" x2="99.0" y2="771.12" stroke="#000" stroke-width="1.8"/>
<line x1="93.5" y1="751.75" x2="104.0" y2="751.75" stroke="#000" stroke-width="1.8"/>
<line x1="93.5" y1="732.38" x2="99.0" y2="732.38" stroke="#000" stroke-width="1.8"/>
<line x1="93.5" y1="713.00" x2="104.0" y2="713.00" stroke="#000" stroke-width="1.8"/>
<line x1="93.5" y1="693.62" x2="99.0" y2="693.62" stroke="#000" stroke-width="1.8"/>
<line x1="93.5" y1="674.25" x2="104.0" y2="674.25" stroke="#000" stroke-width="1.8"/>
<line x1="93.5" y1="654.88" x2="99.0" y2="654.88" stroke="#000" stroke-width="1.8"/>
<text transform="translate(81.5,681.25) scale(1,1.07)" class="yl">210</text>
<text transform="translate(81.5,720.00) scale(1,1.07)" class="yl">140</text>
<text transform="translate(81.5,758.75) scale(1,1.07)" class="yl">70</text>
<text transform="translate(81.5,797.50) scale(1,1.07)" class="yl">0</text>
<line x1="92.7" y1="790.50" x2="669.9" y2="790.50" stroke="#000" stroke-width="1.8"/>
<line x1="93.5" y1="926.12" x2="99.0" y2="926.12" stroke="#000" stroke-width="1.8"/>
<line x1="93.5" y1="906.75" x2="104.0" y2="906.75" stroke="#000" stroke-width="1.8"/>
<line x1="93.5" y1="887.38" x2="99.0" y2="887.38" stroke="#000" stroke-width="1.8"/>
<line x1="93.5" y1="868.00" x2="104.0" y2="868.00" stroke="#000" stroke-width="1.8"/>
<line x1="93.5" y1="848.62" x2="99.0" y2="848.62" stroke="#000" stroke-width="1.8"/>
<line x1="93.5" y1="829.25" x2="104.0" y2="829.25" stroke="#000" stroke-width="1.8"/>
<line x1="93.5" y1="809.88" x2="99.0" y2="809.88" stroke="#000" stroke-width="1.8"/>
<text transform="translate(81.5,836.25) scale(1,1.07)" class="yl">210</text>
<text transform="translate(81.5,875.00) scale(1,1.07)" class="yl">140</text>
<text transform="translate(81.5,913.75) scale(1,1.07)" class="yl">70</text>
<text transform="translate(81.5,952.50) scale(1,1.07)" class="yl">0</text>
<line x1="92.7" y1="945.50" x2="669.9" y2="945.50" stroke="#000" stroke-width="2.1"/>
<line x1="93.50" y1="15.50" x2="93.50" y2="945.50" stroke="#000" stroke-width="1.6"/>
<line x1="668.90" y1="15.50" x2="668.90" y2="945.50" stroke="#000" stroke-width="1.9"/>
<line x1="151.05" y1="945.5" x2="151.05" y2="940.5" stroke="#000" stroke-width="1.7"/>
<line x1="208.60" y1="945.5" x2="208.60" y2="935.5" stroke="#000" stroke-width="1.7"/>
<line x1="266.15" y1="945.5" x2="266.15" y2="940.5" stroke="#000" stroke-width="1.7"/>
<line x1="323.70" y1="945.5" x2="323.70" y2="935.5" stroke="#000" stroke-width="1.7"/>
<line x1="381.25" y1="945.5" x2="381.25" y2="940.5" stroke="#000" stroke-width="1.7"/>
<line x1="438.80" y1="945.5" x2="438.80" y2="935.5" stroke="#000" stroke-width="1.7"/>
<line x1="496.35" y1="945.5" x2="496.35" y2="940.5" stroke="#000" stroke-width="1.7"/>
<line x1="553.90" y1="945.5" x2="553.90" y2="935.5" stroke="#000" stroke-width="1.7"/>
<line x1="611.45" y1="945.5" x2="611.45" y2="940.5" stroke="#000" stroke-width="1.7"/>
<text transform="translate(93.50,977.2) scale(1,1.05)" class="xl">10</text>
<text transform="translate(208.60,977.2) scale(1,1.05)" class="xl">20</text>
<text transform="translate(323.70,977.2) scale(1,1.05)" class="xl">30</text>
<text transform="translate(438.80,977.2) scale(1,1.05)" class="xl">40</text>
<text transform="translate(553.90,977.2) scale(1,1.05)" class="xl">50</text>
<text transform="translate(669.00,977.2) scale(1,1.05)" class="xl">60</text>
<rect x="515.3" y="20.3" width="146.5" height="32.1" fill="#fff" stroke="#777" stroke-width="1"/>
<line x1="520.2" y1="36.3" x2="568.7" y2="36.3" stroke="#800000" stroke-width="5.6" stroke-linecap="round"/>
<text transform="translate(575.1,44.3) scale(1,1.05)" class="lg">E+NC-V</text>
<rect x="510.9" y="174.4" width="152.4" height="32.1" fill="#fff" stroke="#777" stroke-width="1"/>
<line x1="515.2" y1="190.4" x2="563.8" y2="190.4" stroke="#008000" stroke-width="5.6" stroke-linecap="round"/>
<text transform="translate(570.1,198.4) scale(1,1.05)" class="lg">E+NC-IV</text>
<rect x="511.8" y="333.2" width="150.9" height="31.2" fill="#fff" stroke="#777" stroke-width="1"/>
<line x1="515.8" y1="349.0" x2="565.8" y2="349.0" stroke="#800080" stroke-width="5.6" stroke-linecap="round"/>
<text transform="translate(572.1,357.0) scale(1,1.05)" class="lg">E+NC-III</text>
<rect x="519.0" y="484.4" width="144.3" height="30.6" fill="#fff" stroke="#777" stroke-width="1"/>
<line x1="523.1" y1="499.9" x2="572.5" y2="499.9" stroke="#000080" stroke-width="5.6" stroke-linecap="round"/>
<text transform="translate(579.5,507.9) scale(1,1.05)" class="lg">E+NC-II</text>
<rect x="525.5" y="646.7" width="137.8" height="30.6" fill="#fff" stroke="#777" stroke-width="1"/>
<line x1="528.9" y1="662.2" x2="579.0" y2="662.2" stroke="#808000" stroke-width="5.6" stroke-linecap="round"/>
<text transform="translate(585.3,670.2) scale(1,1.05)" class="lg">E+NC-I</text>
<rect x="419.3" y="796.4" width="242.5" height="31.6" fill="#fff" stroke="#777" stroke-width="1"/>
<line x1="423.6" y1="812.8" x2="472.2" y2="812.8" stroke="#F03C3C" stroke-width="5.6" stroke-linecap="round"/>
<text transform="translate(478.7,820.8) scale(1,1.05)" class="lg">Pure Epoxy Resin</text>
<line x1="191.7" y1="59.0" x2="191.7" y2="89.3" stroke="#f00" stroke-width="3.6"/>
<polygon points="191.7,33.1 184.9,60.0 198.5,60.0" fill="#f00"/>
<line x1="191.6" y1="211.3" x2="191.6" y2="257.6" stroke="#f00" stroke-width="3.6"/>
<polygon points="191.6,184.6 184.8,212.3 198.4,212.3" fill="#f00"/>
<line x1="182.8" y1="375.8" x2="182.8" y2="425.0" stroke="#f00" stroke-width="3.6"/>
<polygon points="182.8,348.0 176.0,376.8 189.6,376.8" fill="#f00"/>
<line x1="195.3" y1="526.0" x2="195.3" y2="566.5" stroke="#f00" stroke-width="3.6"/>
<polygon points="195.3,499.6 188.5,527.0 202.1,527.0" fill="#f00"/>
<line x1="206.1" y1="682.1" x2="206.1" y2="722.5" stroke="#f00" stroke-width="3.6"/>
<polygon points="206.1,654.3 199.3,683.1 212.9,683.1" fill="#f00"/>
<line x1="221.6" y1="832.4" x2="221.6" y2="870.5" stroke="#f00" stroke-width="3.6"/>
<polygon points="221.6,806.8 214.8,833.4 228.4,833.4" fill="#f00"/>
<text x="192.4" y="112.4" class="pk" style="font-size:25.0px">19.56</text>
<text x="189.0" y="282.5" class="pk" style="font-size:26.5px">19.31</text>
<text x="183.1" y="444.2" class="pk" style="font-size:27.3px">18.95</text>
<text x="193.2" y="584.8" class="pk" style="font-size:27.0px">19.34</text>
<text x="205.2" y="740.4" class="pk" style="font-size:27.2px">19.72</text>
<text x="235.2" y="887.2" class="pk" style="font-size:27.9px">21.85</text>
<text x="378.5" y="1009" class="xt">2θ (degrees)</text>
<text transform="translate(23.1,489) rotate(-90)" x="0" y="0" class="yt">Intensity (counts)</text>
</svg>
</body></html>
